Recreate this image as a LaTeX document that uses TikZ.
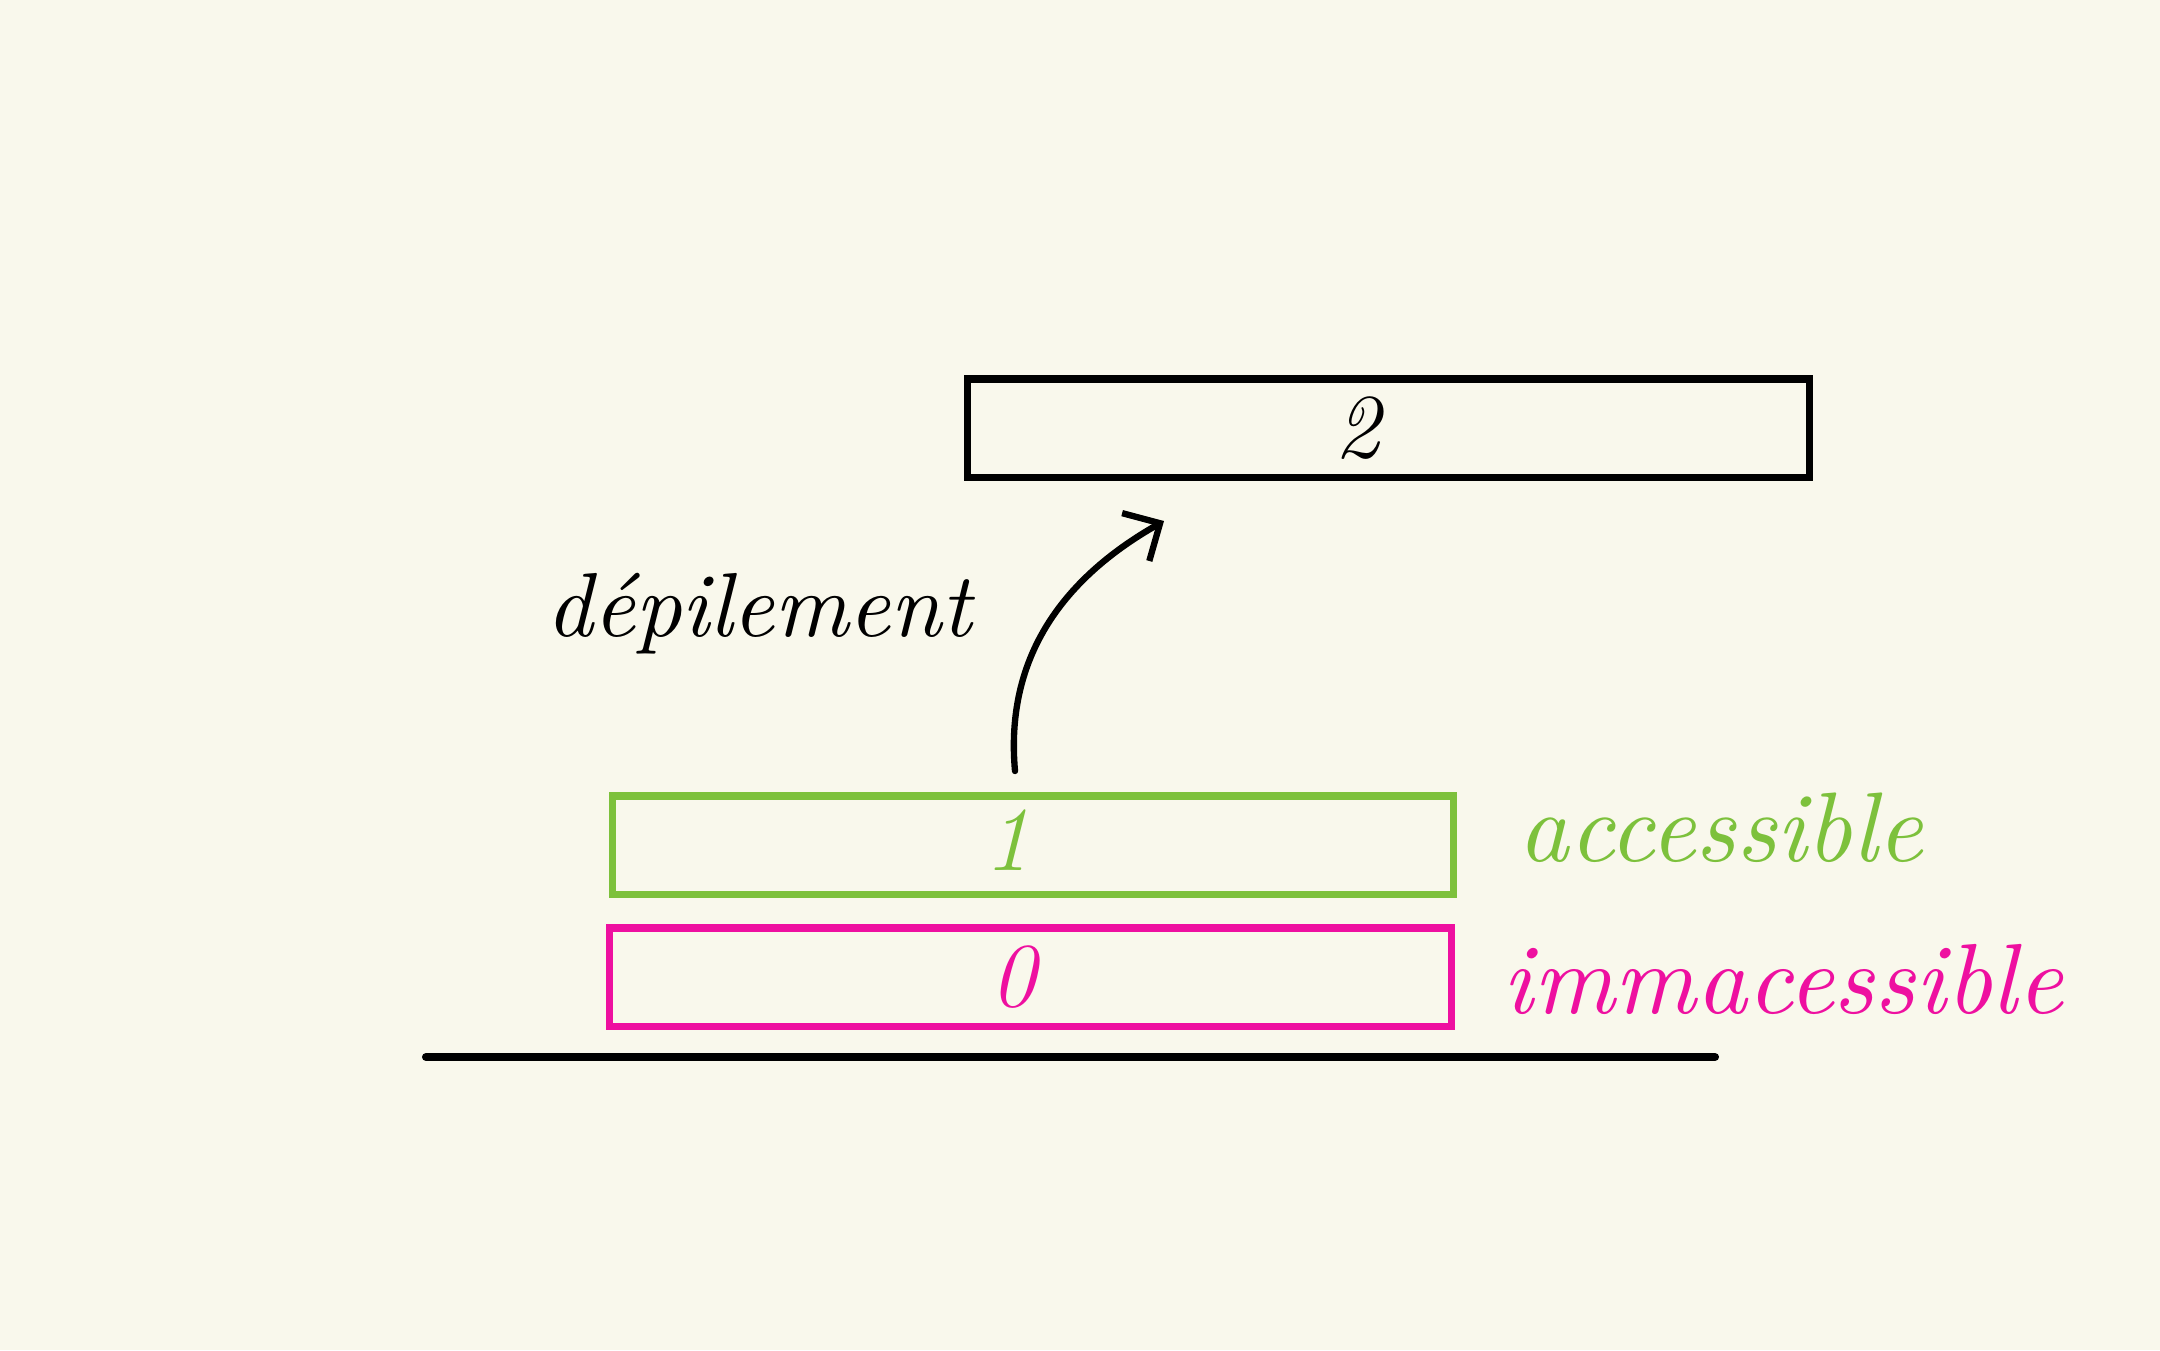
\documentclass[tikz,border=0pt]{standalone}
\usepackage{fontspec}
\usetikzlibrary{arrows.meta}
\definecolor{bgc}{RGB}{249,248,236}
\definecolor{accgreen}{RGB}{125,193,60}
\definecolor{inmag}{RGB}{238,16,160}
\tikzset{
  stackbox/.style={draw, line width=2pt, minimum height=0.98cm, inner sep=0pt},
  numlabel/.style={font=\fontsize{26}{26}\selectfont\itshape, inner sep=0pt},
  handtext/.style={inner sep=0pt, anchor=base west},
}
\begin{document}
\begin{tikzpicture}[x=0.01cm, y=-0.01cm]
  \fill[bgc] (0,0) rectangle (2160,1350);
  \useasboundingbox (0,0) rectangle (2160,1350);
  % boxes
  \node[stackbox, minimum width=8.41cm] (b2) at (1388.5,428) {};
  \node[stackbox, draw=accgreen, minimum width=8.40cm] (b1) at (1033,845) {};
  \node[stackbox, draw=inmag, minimum width=8.41cm] (b0) at (1030.5,977) {};
  % numbers
  \node[numlabel] (n2) at (1357,428) {2};
  \node[numlabel, text=accgreen] (n1) at (1007,840) {1};
  \node[numlabel, text=inmag] (n0) at (1013,977) {0};
  % ground line
  \coordinate (g1) at (426,1057);
  \coordinate (g2) at (1715,1057);
  \draw[line width=2.3pt, line cap=round] (g1) -- (g2);
  % labels
  \node[handtext] (dep) at (546,636) {\resizebox{4.25cm}{!}{\itshape dépilement}};
  \node[handtext, text=accgreen] (acc) at (1518,861) {\resizebox{4.04cm}{!}{\itshape accessible}};
  \node[handtext, text=inmag] (inacc) at (1502,1013) {\resizebox{5.6cm}{!}{\itshape immacessible}};
  % arrow
  \coordinate (as) at (1015,771);
  \coordinate (ae) at (1164,521);
  \draw[line width=1.8pt, line cap=round, -{Straight Barb[length=0.28cm, width=0.55cm, line width=1.8pt]}]
    (as) .. controls (1005,660) and (1060,580) .. (ae);
\end{tikzpicture}
\end{document}
